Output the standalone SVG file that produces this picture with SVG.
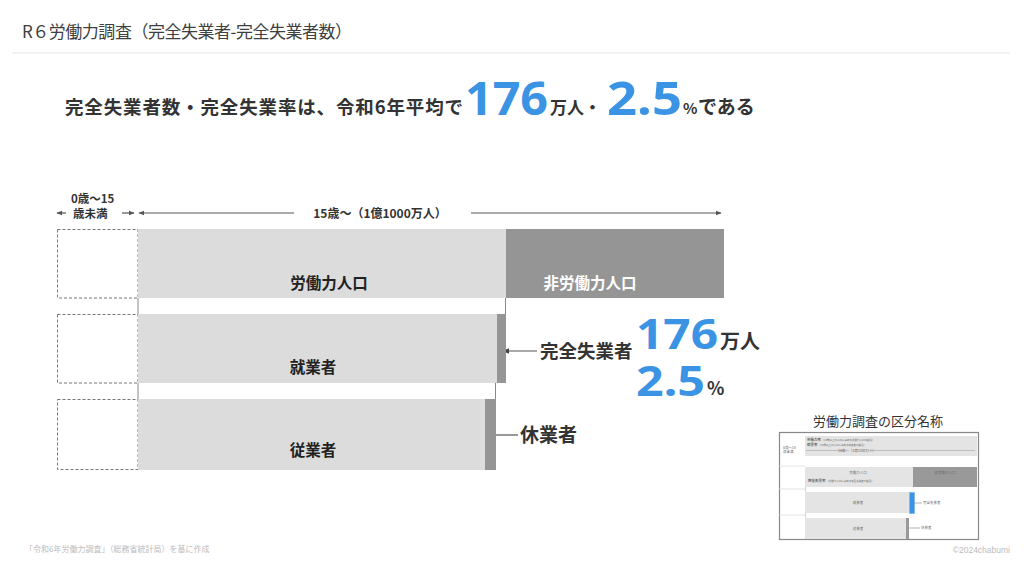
<svg xmlns="http://www.w3.org/2000/svg" width="1024" height="576" viewBox="0 0 1024 576">
<style>
.jp{font-family:"Noto Sans CJK JP","Noto Sans",sans-serif}
.b{font-weight:bold}
.num{font-family:"Noto Sans","Liberation Sans",sans-serif;font-weight:bold;fill:#3b93e3}
.lg{fill:#dcdcdc}
.dg{fill:#959595}
.dash{fill:#fff;stroke:#777;stroke-width:1;stroke-dasharray:3,2}
.conn{stroke:#888;stroke-width:1;fill:none}
.arr{stroke:#555;stroke-width:1.2;fill:none}
.tiny{font-family:"Noto Sans CJK JP",sans-serif;font-size:3.5px;fill:#666}
</style>
<defs>
<marker id="ah" viewBox="0 0 10 10" refX="9" refY="5" markerWidth="6" markerHeight="6" orient="auto-start-reverse">
<path d="M0,1 L10,5 L0,9 z" fill="#444"/>
</marker>
<marker id="ahs" viewBox="0 0 10 10" refX="9" refY="5" markerWidth="5" markerHeight="5" orient="auto-start-reverse">
<path d="M0,1 L10,5 L0,9 z" fill="#555"/>
</marker>
</defs>
<rect width="1024" height="576" fill="#fff"/>

<g id="title">
<text x="22" y="38" class="jp" font-size="17" fill="#404040" textLength="330">R６労働力調査（完全失業者-完全失業者数）</text>
<line x1="12" y1="53" x2="1010" y2="53" stroke="#e6e6e6" stroke-width="1"/>
</g>

<g id="headline">
<text x="65" y="114" class="jp b" font-size="18.5" fill="#333" textLength="398">完全失業者数・完全失業率は、令和6年平均で</text>
<text x="465" y="115" class="num" font-size="46" textLength="83" lengthAdjust="spacingAndGlyphs">176</text>
<text x="550" y="114" class="jp b" font-size="17" fill="#333">万人・</text>
<text x="607" y="115" class="num" font-size="46" textLength="75" lengthAdjust="spacingAndGlyphs">2.5</text>
<text x="683" y="114" class="jp b" font-size="15" fill="#333">%</text>
<text x="698" y="114" class="jp b" font-size="19" fill="#333">である</text>
</g>

<g id="age-axis">
<text x="71" y="203" class="jp b" font-size="11.5" fill="#333">0歳〜15</text>
<text x="73" y="218" class="jp b" font-size="11.5" fill="#333">歳未満</text>
<line x1="66" y1="213" x2="57" y2="213" class="arr" stroke-width="1" marker-end="url(#ahs)"/>
<line x1="122" y1="213" x2="134" y2="213" class="arr" stroke-width="1" marker-end="url(#ahs)"/>
<line x1="294" y1="213" x2="139" y2="213" class="arr" stroke-width="1" marker-end="url(#ahs)"/>
<text x="380" y="218" class="jp b" font-size="12" fill="#333" text-anchor="middle">15歳〜（1億1000万人）</text>
<line x1="471" y1="213" x2="721" y2="213" class="arr" stroke-width="1" marker-end="url(#ahs)"/>
</g>

<g id="connectors">
<line x1="138" y1="298" x2="138" y2="314" class="conn"/>
<line x1="505.5" y1="298" x2="505.5" y2="314" class="conn"/>
<line x1="138" y1="383" x2="138" y2="399" class="conn"/>
<line x1="495.5" y1="383" x2="495.5" y2="399" class="conn"/>
<line x1="537" y1="351" x2="503" y2="351" class="arr" marker-end="url(#ah)"/>
<line x1="518" y1="435" x2="488" y2="435" class="arr" marker-end="url(#ah)"/>
</g>

<g id="row-population">
<rect x="57.5" y="229.5" width="80.5" height="68.5" class="dash"/>
<rect x="138" y="229" width="368" height="69" class="lg"/>
<rect x="506" y="229" width="218" height="69" class="dg"/>
<text x="329" y="289" class="jp b" font-size="15.5" fill="#222" text-anchor="middle">労働力人口</text>
<text x="590" y="289" class="jp b" font-size="15.5" fill="#fff" text-anchor="middle">非労働力人口</text>
</g>

<g id="row-labor">
<rect x="57.5" y="314.5" width="80.5" height="68.5" class="dash"/>
<rect x="138" y="314" width="359" height="69" class="lg"/>
<rect x="497" y="314" width="9" height="69" class="dg"/>
<text x="313" y="373" class="jp b" font-size="15.5" fill="#222" text-anchor="middle">就業者</text>
</g>

<g id="unemployed-label">
<text x="540" y="358" class="jp b" font-size="18.5" fill="#333">完全失業者</text>
<text x="636" y="349" class="num" font-size="42" textLength="82" lengthAdjust="spacingAndGlyphs">176</text>
<text x="720" y="349" class="jp b" font-size="20" fill="#333">万人</text>
<text x="636" y="396" class="num" font-size="42" textLength="69" lengthAdjust="spacingAndGlyphs">2.5</text>
<text x="707" y="395" class="jp b" font-size="18" fill="#333">%</text>
</g>

<g id="row-employed">
<rect x="57.5" y="399.5" width="80.5" height="70" class="dash"/>
<rect x="138" y="399" width="347" height="71" class="lg"/>
<rect x="485" y="399" width="11" height="71" class="dg"/>
<text x="313" y="456" class="jp b" font-size="15.5" fill="#222" text-anchor="middle">従業者</text>
<text x="520" y="442" class="jp b" font-size="19" fill="#333">休業者</text>
</g>

<g id="thumbnail">
<text x="878" y="426" class="jp" font-size="13" fill="#333" text-anchor="middle">労働力調査の区分名称</text>
<rect x="779.5" y="432.5" width="199" height="107" fill="#fff" stroke="#888" stroke-width="1.2"/>
<rect x="805" y="436" width="172" height="20" fill="#e4e4e4"/>
<text x="807" y="441" class="tiny" font-weight="bold">労働力率 <tspan font-weight="normal" font-size="2.5">（15歳以上の人口に占める労働力人口の割合）</tspan></text>
<text x="807" y="446" class="tiny" font-weight="bold">就業率 <tspan font-weight="normal" font-size="2.5">（15歳以上の人口に占める就業者の割合）</tspan></text>
<text x="783" y="449" class="tiny" font-size="3">0歳〜15</text>
<text x="783" y="453" class="tiny" font-size="3">歳未満</text>
<line x1="806" y1="450.5" x2="845" y2="450.5" stroke="#999" stroke-width="0.5"/>
<text x="857" y="451.5" class="tiny" font-size="3" text-anchor="middle">15歳〜（1億1000万人）</text>
<line x1="870" y1="450.5" x2="975" y2="450.5" stroke="#999" stroke-width="0.5"/>
<line x1="779" y1="466" x2="805" y2="466" stroke="#ddd" stroke-width="0.8"/>
<rect x="805" y="467" width="108" height="20" fill="#e4e4e4"/>
<rect x="913" y="467" width="64" height="20" fill="#999"/>
<text x="858" y="474" class="tiny" text-anchor="middle">労働力人口</text>
<text x="808" y="482" class="tiny" font-weight="bold">完全失業率 <tspan font-weight="normal" font-size="2.5">（労働力人口に占める完全失業者の割合）</tspan></text>
<text x="945" y="474" class="tiny" fill="#eee" text-anchor="middle">非労働力人口</text>
<line x1="779" y1="489" x2="805" y2="489" stroke="#ddd" stroke-width="0.8"/>
<line x1="805.5" y1="487" x2="805.5" y2="492" stroke="#aaa" stroke-width="0.5"/>
<rect x="805" y="492" width="104" height="21" fill="#e4e4e4"/>
<rect x="909.5" y="492.5" width="5" height="21" fill="#3b93e3" stroke="#7fb6ea" stroke-width="0.8"/>
<text x="858" y="504" class="tiny" text-anchor="middle">就業者</text>
<line x1="914" y1="503" x2="922" y2="503" stroke="#666" stroke-width="0.5"/>
<text x="923" y="504" class="tiny">完全失業者</text>
<line x1="779" y1="515" x2="805" y2="515" stroke="#ddd" stroke-width="0.8"/>
<line x1="805.5" y1="513" x2="805.5" y2="518" stroke="#aaa" stroke-width="0.5"/>
<rect x="805" y="518" width="101" height="21" fill="#e4e4e4"/>
<rect x="906" y="518" width="3" height="21" fill="#999"/>
<text x="858" y="530" class="tiny" text-anchor="middle">従業者</text>
<line x1="909" y1="528" x2="920" y2="528" stroke="#666" stroke-width="0.5"/>
<text x="921" y="529" class="tiny">休業者</text>
</g>

<g id="footer">
<text x="25" y="552" class="jp" font-size="8" fill="#bbb">「令和6年労働力調査」（総務省統計局）を基に作成</text>
<text x="1010" y="553" font-family="Liberation Sans, sans-serif" font-size="8.5" fill="#bbb" text-anchor="end">©2024chabumi</text>
</g>
</svg>
